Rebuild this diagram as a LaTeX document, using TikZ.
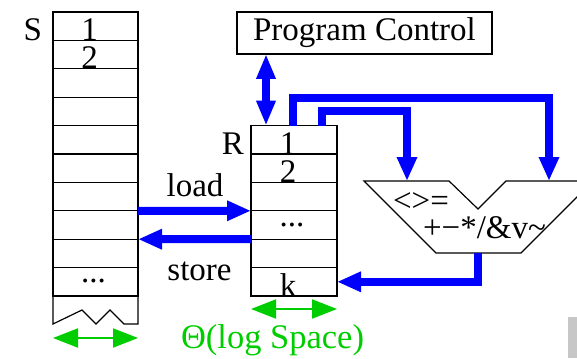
\documentclass[tikz,border=0pt]{standalone}
\usepackage{fontspec}
\setmainfont{Liberation Serif}
\usetikzlibrary{arrows.meta}
\definecolor{spangreen}{RGB}{0,205,0}
\begin{document}
\begin{tikzpicture}[
        x=1pt, y=-1pt,
        every node/.style={inner sep=0pt, outer sep=0pt, font=\fontsize{33}{36}\selectfont},
        cell/.style={draw, line width=1.2pt, minimum height=28.4pt},
        entry/.style={anchor=base, xshift=-6pt},
        bus/.style={draw=blue, line width=8pt, arrows={-Triangle[length=24pt, width=19pt]}},
        span/.style={draw=spangreen, line width=2pt, arrows={Triangle[length=25pt, width=19pt]-Triangle[length=25pt, width=19pt]}},
    ]
    \path[use as bounding box, clip] (0,0) rectangle (577,358);
    % tape S
    \foreach \i in {1,...,10}
        \node[cell, minimum width=85pt](S\i) at (95.5, {12+28.4*\i-14.2}){};
    \draw[line width=1.2pt] (S10.south west) -- ++(0,28) -- ++(29,-14) -- ++(14,14)
        -- ++(14,-14) -- ++(14,14) -- (S10.south east |- 0,324) -- (S10.south east);
    \node[anchor=base east] at ([xshift=-11pt]S1.south west){S};
    \node[entry] at (S1.south){1};
    \node[entry] at (S2.south){2};
    \node[entry, xshift=4pt] at ([yshift=-1pt]S10.center){...};
    % registers R
    \foreach \i in {1,...,6}
        \node[cell, minimum width=86pt](R\i) at (294, {125.6+28.4*\i-14.2}){};
    \node[anchor=base east] at ([xshift=-7pt]R1.south west){R};
    \node[entry] at (R1.south){1};
    \node[entry] at (R2.south){2};
    \node[entry, xshift=4pt] at ([yshift=-1pt]R4.center){...};
    \node[entry] at (R6.south){k};
    % program control
    \node[draw, line width=1.2pt, minimum width=255pt, minimum height=42pt](pc) at (364.5,33){Program Control};
    % alu
    \draw[line width=1.2pt] (364,181) -- (449,181) -- (478,209) -- (506,181) -- (593,181)
        -- (521,253) -- (436,253) -- cycle;
    \coordinate (aluL) at (407,181);
    \coordinate (aluR) at (549,181);
    \coordinate (aluO) at (478,253);
    \node[anchor=base] at (421,211){<>=};
    \node[anchor=base] at (484.5,238){+−*/\&v\textasciitilde};
    % buses
    \draw[bus, arrows={Triangle[length=25pt, width=18pt]-Triangle[length=25pt, width=18pt]}]
        ([xshift=29pt]pc.south west) -- ([xshift=29pt]pc.south west |- R1.north);
    \draw[bus] ([xshift=-1pt]R1.north) -- ++(0,-28) -| (aluR);
    \draw[bus] ([xshift=28pt]R1.north) -- ++(0,-15) -| (aluL);
    \draw[bus] (aluO) |- (R6.east);
    \draw[bus] (S7.south east) -- (R3.south west);
    \draw[bus] (R4.south west) -- (S8.south east);
    \node[anchor=base] at (195,196){load};
    \node[anchor=base] at (199.5,280){store};
    % space bounds
    \draw[span] (S1.west |- 0,338) -- (S1.east |- 0,338);
    \draw[span] (R1.west |- 0,309) -- (R1.east |- 0,309);
    \node[anchor=base, text=spangreen, font=\fontsize{34.5}{36}\selectfont] at (272.5,348){Θ(log Space)};
    \fill[black!22] (568,317) rectangle (577,358);
\end{tikzpicture}
\end{document}
